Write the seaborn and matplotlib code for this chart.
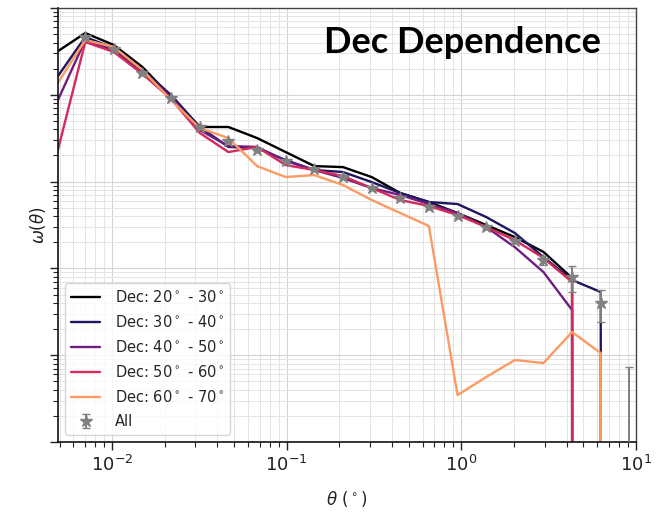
import numpy as np
import pandas as pd
import matplotlib
matplotlib.use("Agg")
import matplotlib.pyplot as plt
import seaborn as sns
from matplotlib.ticker import NullFormatter

# angular bins (degrees)
theta = [0.00481, 0.00702, 0.01023, 0.01493, 0.02178, 0.03177, 0.04634, 0.06761,
         0.09863, 0.1439, 0.2099, 0.3062, 0.4467, 0.6516, 0.9506, 1.387, 2.023,
         2.951, 4.305, 6.281, 9.162]

dec_20_30 = [3.11, 5.15, 3.75, 2.09, 0.944, 0.426, 0.426, 0.318, 0.219, 0.151, 0.147,
             0.113, 0.0739, 0.0582, 0.0435, 0.0316, 0.0230, 0.0155, 0.00775, -0.001, -0.001]
dec_30_40 = [1.56, 4.63, 3.46, 1.93, 0.995, 0.426, 0.251, 0.244, 0.177, 0.136, 0.129,
             0.0989, 0.0739, 0.0582, 0.0552, 0.0391, 0.0256, 0.0135, 0.00735, 0.00535, -0.001]
dec_40_50 = [0.805, 4.28, 3.28, 1.83, 0.944, 0.393, 0.257, 0.251, 0.173, 0.136, 0.110,
             0.0843, 0.0701, 0.0552, 0.0435, 0.0300, 0.0176, 0.00908, 0.00332, -0.001, -0.001]
dec_50_60 = [0.202, 4.06, 3.11, 1.74, 0.895, 0.363, 0.219, 0.251, 0.155, 0.136, 0.116,
             0.0843, 0.0614, 0.0524, 0.0412, 0.0300, 0.0212, 0.0132, 0.00697, -0.001, -0.001]
dec_60_70 = [1.30, 4.28, 3.56, 1.93, 0.871, 0.414, 0.318, 0.151, 0.113, 0.119, 0.0914,
             0.0614, 0.0435, 0.0308, 0.000348, 0.000561, 0.000881, 0.000813, 0.00185, 0.00106, -0.001]

theta_all = theta[1:]
w_all = [4.63, 3.37, 1.78, 0.918, 0.426, 0.294, 0.231, 0.173, 0.140, 0.113, 0.0843,
         0.0647, 0.0509, 0.0402, 0.0300, 0.0207, 0.0125, 0.00796, 0.00399, 0.000001]
w_all_err = [0.15, 0.1, 0.05, 0.025, 0.012, 0.008, 0.006, 0.005, 0.004, 0.0035, 0.003,
             0.0025, 0.002, 0.0018, 0.0012, 0.0011, 0.0015, 0.0026, 0.0016, 0.00073]

labels = ["Dec: 20$^\\circ$ - 30$^\\circ$", "Dec: 30$^\\circ$ - 40$^\\circ$",
          "Dec: 40$^\\circ$ - 50$^\\circ$", "Dec: 50$^\\circ$ - 60$^\\circ$",
          "Dec: 60$^\\circ$ - 70$^\\circ$"]
series = [dec_20_30, dec_30_40, dec_40_50, dec_50_60, dec_60_70]
colors = ["#000000", "#1e1660", "#6e1d80", "#d42a5a", "#fc9a64"]

sns.set_style("ticks")
plt.rcParams["font.family"] = ["DejaVu Sans"]

fig = plt.figure(figsize=(6.65, 5.14), dpi=100)
ax = fig.add_axes([0.0872, 0.140, 0.8692, 0.8444])

for lab, vals, col in zip(labels, series, colors):
    df = pd.DataFrame({"theta": theta, "w": vals})
    sns.lineplot(data=df, x="theta", y="w", color=col, lw=1.7, label=lab,
                 ax=ax, estimator=None, sort=False)

ax.errorbar(theta_all, w_all, yerr=w_all_err, fmt="*", color="gray", ms=9,
            capsize=3, elinewidth=1.4, label="All", zorder=5)

ax.set_xscale("log", nonpositive="clip")
ax.set_yscale("log", nonpositive="clip")
ax.set_xlim(0.0049, 10)
ax.set_ylim(1e-4, 10)

ax.grid(True, which="major", color="#d4d4d4", lw=0.8)
ax.grid(True, which="minor", color="#e4e4e4", lw=0.7)
ax.yaxis.set_major_formatter(NullFormatter())
ax.yaxis.set_minor_formatter(NullFormatter())
ax.tick_params(which="major", length=5.5, width=1, labelsize=13, colors="#222222")
ax.tick_params(which="minor", length=3.5, width=0.8, colors="#222222")

for s in ["top", "right"]:
    ax.spines[s].set_color("#444444")
    ax.spines[s].set_linewidth(1.0)
for s in ["left", "bottom"]:
    ax.spines[s].set_color("#111111")
    ax.spines[s].set_linewidth(1.2)

ax.set_xlabel("$\\theta$ ($^\\circ$)", fontsize=12, labelpad=10, color="#222222")
ax.set_ylabel("$\\omega(\\theta)$", fontsize=12, labelpad=-2, color="#222222")

leg = ax.legend(loc="lower left", fontsize=10.5, frameon=True, borderaxespad=0.5,
                handlelength=2.0, handletextpad=1.0, labelspacing=0.62)
leg.get_frame().set_edgecolor("#cccccc")

fig.text(0.695, 0.918, "Dec Dependence", fontsize=26, fontweight="bold",
         family=["Lato", "DejaVu Sans"], ha="center", va="center", color="black")

fig.savefig("out.png", dpi=100)
